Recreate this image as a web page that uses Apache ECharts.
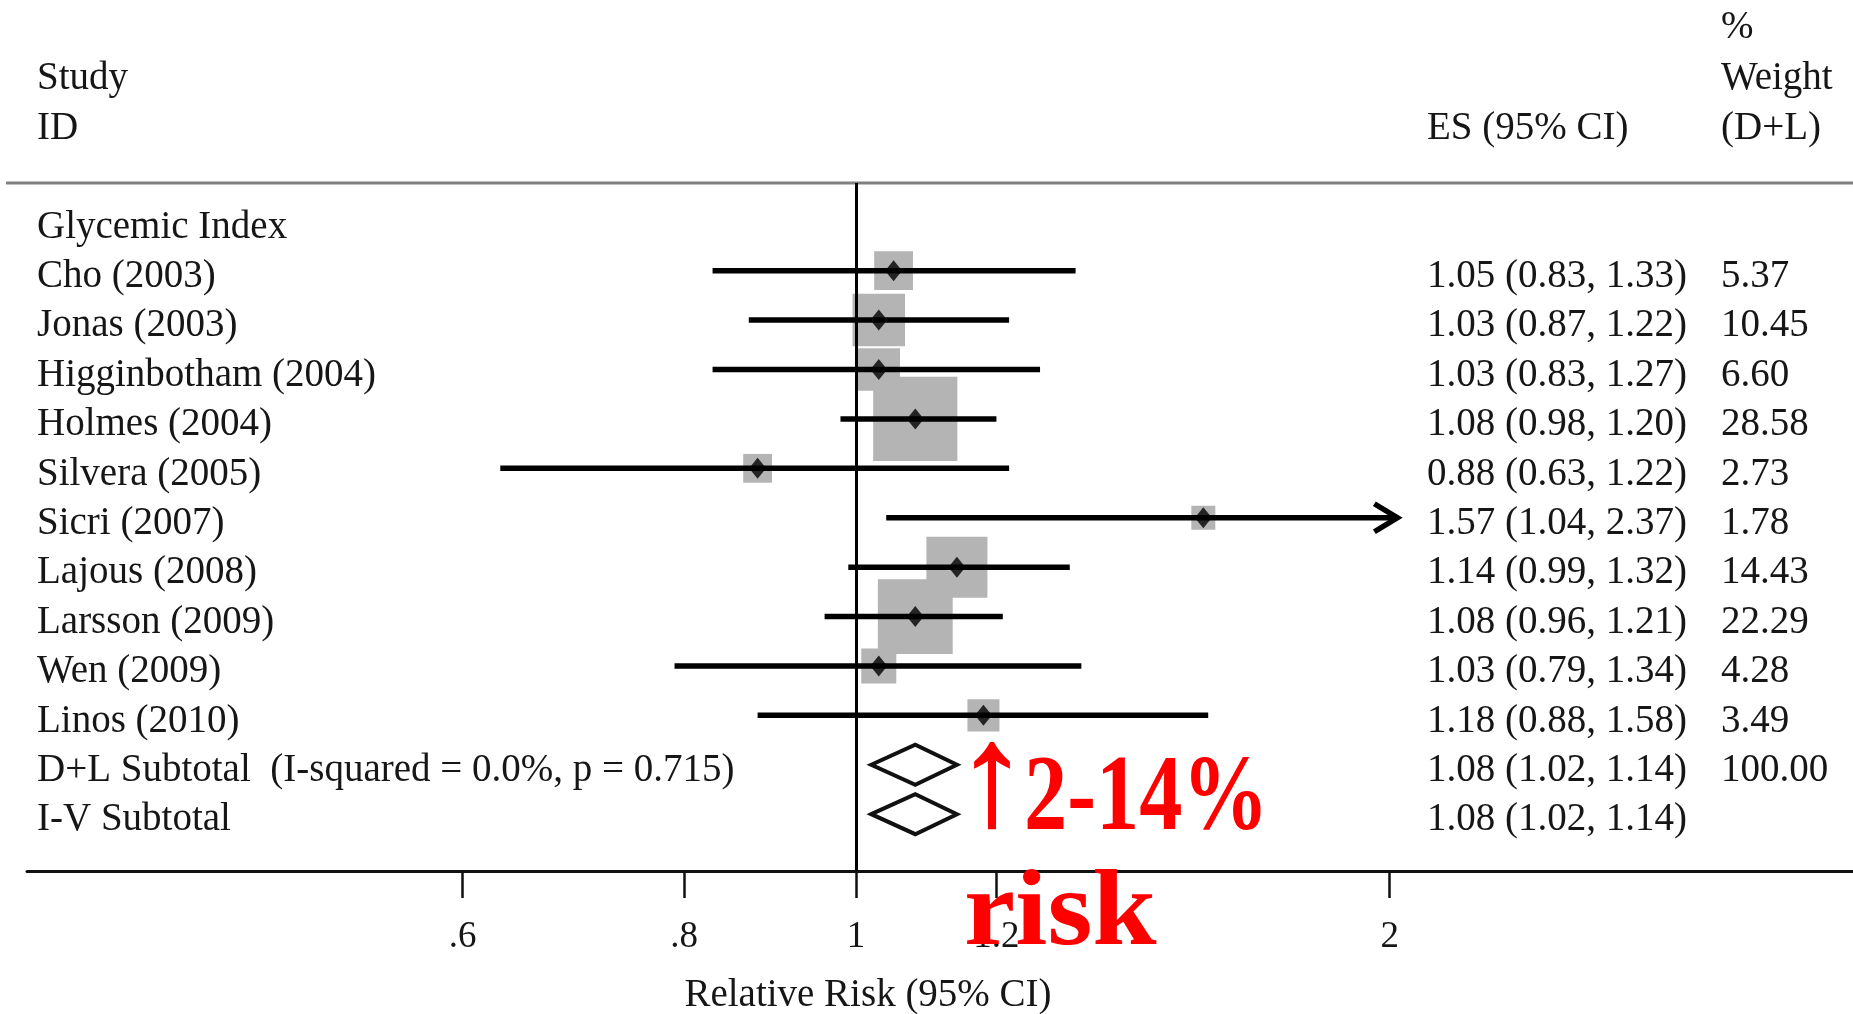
<!DOCTYPE html>
<html>
<head>
<meta charset="utf-8">
<script src="https://cdn.jsdelivr.net/npm/echarts@6/dist/echarts.min.js"></script>
<style>
html,body{margin:0;padding:0;background:#ffffff;}
#chart{width:1853px;height:1014px;}
</style>
</head>
<body>
<div id="chart"></div>
<script>
// ---------------- data ----------------
const groupLabel = 'Glycemic Index';
const studies = ['Cho (2003)', 'Jonas (2003)', 'Higginbotham (2004)', 'Holmes (2004)', 'Silvera (2005)',
  'Sicri (2007)', 'Lajous (2008)', 'Larsson (2009)', 'Wen (2009)', 'Linos (2010)'];
const es      = [1.05, 1.03, 1.03, 1.08, 0.88, 1.57, 1.14, 1.08, 1.03, 1.18];
const ciLow   = [0.83, 0.87, 0.83, 0.98, 0.63, 1.04, 0.99, 0.96, 0.79, 0.88];
const ciHigh  = [1.33, 1.22, 1.27, 1.20, 1.22, 2.37, 1.32, 1.21, 1.34, 1.58];
const weights = [5.37, 10.45, 6.60, 28.58, 2.73, 1.78, 14.43, 22.29, 4.28, 3.49];

const pooledLabels = ['D+L Subtotal  (I-squared = 0.0%, p = 0.715)', 'I-V Subtotal'];
const pooledEs     = [1.08, 1.08];
const pooledLow    = [1.02, 1.02];
const pooledHigh   = [1.14, 1.14];
const pooledWeight = [100.00, null];

const tickValues = [0.6, 0.8, 1, 1.2, 2];
const tickLabels = ['.6', '.8', '1', '1.2', '2'];
const axisMin = 0.3407, axisMax = 3.6506;
const ciClipMax = 2.02;   // plot region limit in the original: CIs beyond it end in an arrow

// ---------------- styling ----------------
const FONT = '"Liberation Serif", "Times New Roman", serif';
const TXT = '#161616';
const FS = 39;
const NAME_X = 37, ES_X = 1427, W_X = 1721;

const studyData = studies.map((s, i) => [es[i], i + 1, weights[i], ciLow[i], ciHigh[i]]);
const pooledData = pooledEs.map((v, j) => [v, studies.length + 1 + j, pooledLow[j], pooledHigh[j]]);

const fmtCI = (e, l, h) => e.toFixed(2) + ' (' + l.toFixed(2) + ', ' + h.toFixed(2) + ')';
const textRows = [[1, 0, groupLabel, '', '']]
  .concat(studies.map((s, i) => [1, i + 1, s, fmtCI(es[i], ciLow[i], ciHigh[i]), weights[i].toFixed(2)]))
  .concat(pooledLabels.map((s, j) => [1, studies.length + 1 + j, s,
    fmtCI(pooledEs[j], pooledLow[j], pooledHigh[j]), pooledWeight[j] == null ? '' : pooledWeight[j].toFixed(2)]));

function txt(x, y, text, align) {
  return {
    type: 'text', x: x, y: y, z: 50,
    style: { text: text, fill: TXT, font: FS + 'px ' + FONT, align: align || 'left', verticalAlign: 'middle' }
  };
}

const chart = echarts.init(document.getElementById('chart'), null, { renderer: 'canvas' });

const option = {
  animation: false,
  backgroundColor: '#ffffff',
  grid: { left: 27, right: 0, top: 183, bottom: 143 },
  xAxis: {
    type: 'log',
    position: 'bottom',
    min: axisMin, max: axisMax,
    splitLine: { show: false },
    minorTick: { show: false },
    axisLine: { onZero: false, lineStyle: { color: '#111', width: 3 } },
    axisTick: { length: 27, customValues: tickValues, lineStyle: { color: '#111', width: 2.5 } },
    axisLabel: {
      customValues: tickValues,
      margin: 48,
      fontFamily: FONT, fontSize: 37, color: TXT,
      formatter: function (v) {
        for (let k = 0; k < tickValues.length; k++) {
          if (Math.abs(tickValues[k] - v) < 1e-6) return tickLabels[k];
        }
        return '';
      }
    }
  },
  yAxis: { type: 'value', inverse: true, min: -0.775, max: 13.15, show: false },
  graphic: [
    { type: 'line', z: 5, shape: { x1: 6, y1: 183, x2: 1853, y2: 183 }, style: { stroke: '#808080', lineWidth: 3 } },
    txt(NAME_X, 79, 'Study'),
    txt(NAME_X, 129, 'ID'),
    txt(ES_X, 129, 'ES (95% CI)'),
    txt(W_X, 28, '%'),
    txt(W_X, 79, 'Weight'),
    txt(W_X, 129, '(D+L)'),
    txt(868, 996, 'Relative Risk (95% CI)', 'center'),
    {
      type: 'text', x: 956, y: 787, z: 200,
      style: { text: '↑', fill: '#ff0000', font: 'bold 144px ' + FONT, align: 'left', verticalAlign: 'middle',
               stroke: '#ff0000', lineWidth: 2 }
    },
    {
      type: 'text', x: 1024, y: 801, z: 200, scaleX: 0.80,
      style: { text: '2-14%', fill: '#ff0000', font: 'bold 108px ' + FONT, align: 'left', verticalAlign: 'middle' }
    },
    {
      type: 'text', x: 964, y: 916, z: 200, scaleX: 1.08,
      style: { text: 'risk', fill: '#ff0000', font: 'bold 107px ' + FONT, align: 'left', verticalAlign: 'middle' }
    }
  ],
  series: [
    { // reference line at RR = 1
      type: 'scatter', data: [], z: 1, silent: true,
      markLine: {
        silent: true, symbol: ['none', 'none'], label: { show: false },
        lineStyle: { color: '#000', width: 3, type: 'solid' },
        data: [{ xAxis: 1 }]
      }
    },
    { // weight boxes
      type: 'scatter', data: studyData, z: 2, silent: true,
      encode: { x: 0, y: 1 },
      symbol: 'rect',
      symbolSize: function (v) { return 15 * Math.sqrt(v[2]) + 4; },
      itemStyle: { color: '#b4b4b4', opacity: 1 }
    },
    { // confidence intervals
      type: 'custom', data: studyData, z: 3, silent: true,
      encode: { x: 0, y: 1 },
      renderItem: function (params, api) {
        const y = api.value(1), lo = api.value(3), hi = api.value(4);
        const p1 = api.coord([lo, y]);
        const clipped = hi > ciClipMax;
        const p2 = api.coord([Math.min(hi, ciClipMax), y]);
        const children = [{
          type: 'line', shape: { x1: p1[0], y1: p1[1], x2: p2[0], y2: p2[1] },
          style: { stroke: '#000', lineWidth: 5.5 }
        }];
        if (clipped) {
          children.push({
            type: 'polyline',
            shape: { points: [[p2[0] - 23, p2[1] - 14], [p2[0], p2[1]], [p2[0] - 23, p2[1] + 14]] },
            style: { stroke: '#000', lineWidth: 5.5, fill: null }
          });
        }
        return { type: 'group', children: children };
      }
    },
    { // point estimates
      type: 'scatter', data: studyData, z: 4, silent: true,
      encode: { x: 0, y: 1 },
      symbol: 'diamond', symbolSize: [17, 21],
      itemStyle: { color: '#000' }
    },
    { // pooled diamonds
      type: 'custom', data: pooledData, z: 4, silent: true,
      encode: { x: 0, y: 1 },
      renderItem: function (params, api) {
        const y = api.value(1);
        const c = api.coord([api.value(0), y]);
        const l = api.coord([api.value(2), y]);
        const h = api.coord([api.value(3), y]);
        return {
          type: 'polygon',
          shape: { points: [l, [c[0], c[1] - 20], h, [c[0], c[1] + 20]] },
          style: { stroke: '#111', lineWidth: 4, fill: 'none' }
        };
      }
    },
    { // text columns
      type: 'custom', data: textRows, z: 5, silent: true,
      encode: { x: 0, y: 1 },
      renderItem: function (params, api) {
        const r = textRows[params.dataIndex];
        const y = api.coord([1, r[1]])[1] + 6;
        return {
          type: 'group',
          children: [txt(NAME_X, y, r[2]), txt(ES_X, y, r[3]), txt(W_X, y, r[4])]
        };
      }
    }
  ]
};
chart.setOption(option);
</script>
</body>
</html>
